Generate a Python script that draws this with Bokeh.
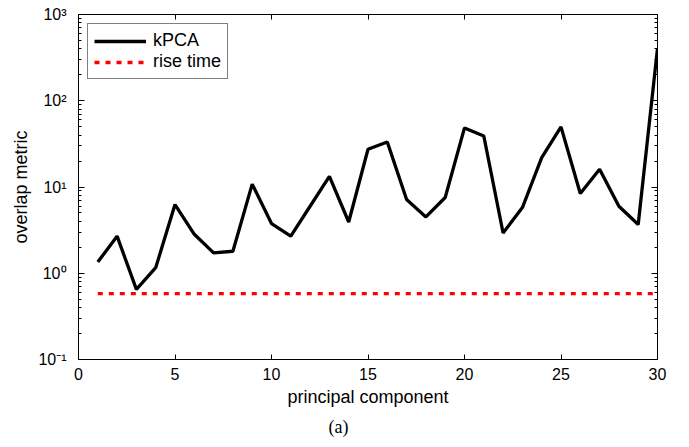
from bokeh.plotting import figure
from bokeh.models import (Range1d, FixedTicker, LogAxis, LinearAxis, Title,
                          CustomJSTickFormatter, Legend)
from bokeh.embed import file_html
from bokeh.resources import INLINE

# ---- data ----
components = list(range(1, 31))
kpca = [1.35, 2.69, 0.65, 1.16, 6.26, 2.83, 1.72, 1.80, 10.8, 3.77,
        2.69, 5.98, 13.3, 3.93, 27.4, 33.3, 7.15, 4.5, 7.55, 48.4,
        39.0, 2.93, 5.78, 21.9, 49.8, 8.4, 16.1, 5.98, 3.67, 403.0]
rise_x = [1, 30]
rise_y = [0.58, 0.58]

x_ticks = [0, 5, 10, 15, 20, 25, 30]
y_ticks = [0.1, 1, 10, 100, 1000]
y_minor = [m * 10.0 ** k for k in range(-1, 3) for m in range(2, 10)]

SANS = "Liberation Sans"

p = figure(frame_width=579, frame_height=345,
           min_border_left=78, min_border_right=23,
           min_border_top=14, min_border_bottom=79,
           y_axis_type="log",
           x_range=Range1d(0, 30), y_range=Range1d(0.1, 1000),
           output_backend="svg", toolbar_location=None)
p.grid.visible = False
p.outline_line_color = "black"
p.outline_line_width = 1

r1 = p.line(components, kpca, line_color="black", line_width=3.3)
r2 = p.line(rise_x, rise_y, line_color="#ff0000", line_width=3.3,
            line_dash="5 6")

sup_js = """
const e = Math.round(Math.log10(tick));
const m = {"-":"\\u207b","0":"\\u2070","1":"\\u00b9","2":"\\u00b2","3":"\\u00b3",
           "4":"\\u2074","5":"\\u2075","6":"\\u2076","7":"\\u2077","8":"\\u2078","9":"\\u2079"};
return "10" + String(e).split("").map(c => m[c]).join("");
"""
blank_js = "return '';"

def style_x(ax, labels=True):
    ax.ticker = FixedTicker(ticks=x_ticks)
    ax.major_tick_in = 5
    ax.major_tick_out = 0
    ax.minor_tick_in = 0
    ax.minor_tick_out = 0
    ax.axis_line_color = "black"
    ax.major_tick_line_color = "black"
    ax.major_label_text_font = SANS
    ax.major_label_text_color = "black"
    ax.major_label_text_font_size = "16px"
    if labels:
        ax.major_label_standoff = 8
    else:
        ax.formatter = CustomJSTickFormatter(code=blank_js)
        ax.major_label_standoff = 0

def style_y(ax, labels=True):
    ax.ticker = FixedTicker(ticks=y_ticks, minor_ticks=y_minor)
    ax.major_tick_in = 6
    ax.major_tick_out = 0
    ax.minor_tick_in = 3
    ax.minor_tick_out = 0
    ax.axis_line_color = "black"
    ax.major_tick_line_color = "black"
    ax.minor_tick_line_color = "black"
    ax.major_label_text_font = SANS
    ax.major_label_text_color = "black"
    ax.major_label_text_font_size = "16px"
    if labels:
        ax.formatter = CustomJSTickFormatter(code=sup_js)
        ax.major_label_standoff = 12
    else:
        ax.formatter = CustomJSTickFormatter(code=blank_js)
        ax.major_label_standoff = 0

style_x(p.xaxis[0])
style_y(p.yaxis[0])
p.xaxis[0].axis_label = "principal component"
p.yaxis[0].axis_label = "overlap metric"
for ax in (p.xaxis[0], p.yaxis[0]):
    ax.axis_label_text_font = SANS
    ax.axis_label_text_font_size = "18px"
    ax.axis_label_text_font_style = "normal"
    ax.axis_label_text_color = "black"
    ax.axis_label_standoff = 4

top = LinearAxis()
style_x(top, labels=False)
p.add_layout(top, "above")
right = LogAxis()
style_y(right, labels=False)
p.add_layout(right, "right")

legend = Legend(items=[("kPCA", [r1]), ("rise time", [r2])],
                location="top_left")
legend.label_text_font = SANS
legend.label_text_font_size = "18px"
legend.label_text_color = "black"
legend.border_line_color = "black"
legend.border_line_width = 1
legend.background_fill_alpha = 1
legend.padding = 6
legend.spacing = 0
legend.margin = 9
legend.glyph_width = 52
legend.glyph_height = 20
legend.label_height = 20
legend.label_standoff = 7
p.add_layout(legend)

cap = Title(text="(a)", align="left", offset=250, text_font="Liberation Serif",
            text_font_size="18px", text_font_style="normal",
            text_color="black")
p.add_layout(cap, "below")

open("out.html", "w", encoding="utf-8").write(file_html(p, INLINE))
